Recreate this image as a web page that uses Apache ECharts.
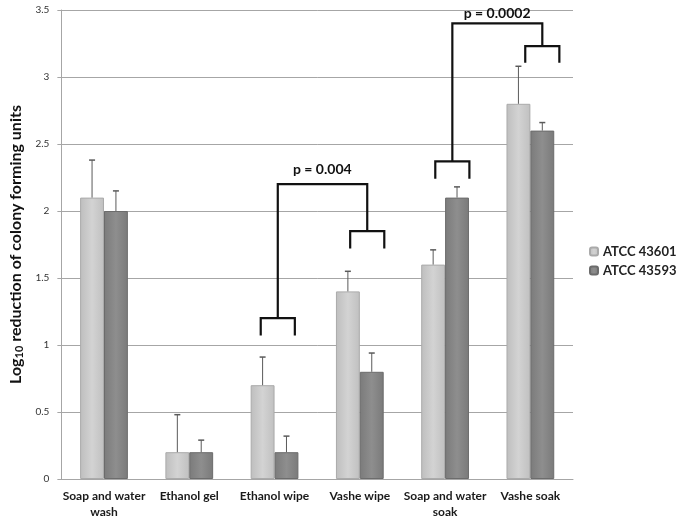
<!DOCTYPE html>
<html><head><meta charset="utf-8">
<script src="https://cdn.jsdelivr.net/npm/echarts@6/dist/echarts.min.js"></script>
<style>html,body{margin:0;padding:0;background:#fff}#c{width:683px;height:520px}</style>
</head><body><div id="c"></div>
<script>
const categories = ['Soap and water\nwash','Ethanol gel','Ethanol wipe','Vashe wipe','Soap and water\nsoak','Vashe soak'];
const seriesNames = ['ATCC 43601','ATCC 43593'];
const atcc43601 = [2.1, 0.2, 0.7, 1.4, 1.6, 2.8];
const atcc43593 = [2.0, 0.2, 0.2, 0.8, 2.1, 2.6];
const err43601 = [2.38, 0.48, 0.91, 1.55, 1.71, 3.08];
const err43593 = [2.15, 0.29, 0.32, 0.94, 2.18, 2.66];
const yTicks = [0, 0.5, 1, 1.5, 2, 2.5, 3, 3.5];
// small brackets: [centre (category units), top, leg bottom]
const smallBrackets = [[2.038, 1.2, 1.07], [3.087, 1.85, 1.72], [4.085, 2.37, 2.24], [5.140, 3.23, 3.107]];
// connectors: [x1, bottom1, x2, bottom2, top]
const connectors = [[2.038, 1.2, 3.087, 1.85, 2.2], [4.085, 2.37, 5.140, 3.23, 3.40]];
const pLabels = [[2.56, 2.31, 'p = 0.004'], [4.61, 3.475, 'p = 0.0002']];

const FONT = 'Lato, "Open Sans", sans-serif';
const chart = echarts.init(document.getElementById('c'));
const lightColor = new echarts.graphic.LinearGradient(0,0,1,0,[{offset:0,color:'#bebebe'},{offset:0.5,color:'#d3d3d3'},{offset:1,color:'#c0c0c0'}]);
const darkColor = new echarts.graphic.LinearGradient(0,0,1,0,[{offset:0,color:'#7b7b7b'},{offset:0.5,color:'#8e8e8e'},{offset:1,color:'#7a7a7a'}]);
const BW = 0.28;
function errItems(vals, errs){ return vals.map((v,i)=>[i, v, errs[i]]); }
function errRender(side){
  return function(params, api){
    const c = api.value(0);
    const top = api.coord([c, api.value(2)]);
    const base = api.coord([c, api.value(1)]);
    const band = api.size([1,0])[0];
    const x = top[0] + side*band*BW/2;
    return {type:'group', children:[
      {type:'line', shape:{x1:x,y1:base[1],x2:x,y2:top[1]}, style:{stroke:'#5a5a5a',lineWidth:1}},
      {type:'line', shape:{x1:x-3,y1:top[1],x2:x+3,y2:top[1]}, style:{stroke:'#5a5a5a',lineWidth:1.5}}
    ]};
  };
}
chart.setOption({
  animation:false,
  textStyle:{fontFamily:FONT},
  grid:{left:47,right:110,top:10,bottom:40,containLabel:false},
  legend:{data:seriesNames, orient:'vertical', left:584, top:240, itemWidth:8, itemHeight:8, itemGap:6,
    textStyle:{fontFamily:FONT,fontWeight:'bold',fontSize:13,color:'#222'}},
  xAxis:[
    {type:'category', data:categories, axisTick:{show:false}, axisLine:{lineStyle:{color:'#a6a6a6'}},
     axisLabel:{interval:0, margin:9, fontFamily:FONT, fontWeight:'bold', fontSize:12, color:'#1a1a1a', lineHeight:16}},
    {type:'value', min:-0.5, max:5.5, show:false}
  ],
  yAxis:{type:'value', min:yTicks[0], max:yTicks[yTicks.length-1], interval:0.5,
    name:'{a|Log}{s|10}{a| reduction of colony forming units}', nameLocation:'middle', nameGap:24, nameRotate:90,
    nameTextStyle:{rich:{a:{fontFamily:FONT,fontWeight:'bold',fontSize:16,color:'#111'},s:{fontFamily:FONT,fontWeight:'bold',fontSize:11,color:'#111',verticalAlign:'bottom',padding:[6,0,0,0]}}},
    axisLine:{show:true,onZero:false,lineStyle:{color:'#a6a6a6'}}, axisTick:{show:true,length:4,lineStyle:{color:'#a6a6a6'}},
    splitLine:{lineStyle:{color:'#a6a6a6'}},
    axisLabel:{margin:12, fontFamily:FONT, fontSize:10, color:'#333', formatter:v=>String(v)}},
  series:[
    {name:seriesNames[0], type:'bar', data:atcc43601, barWidth:(BW*100)+'%', barGap:'0%',
      itemStyle:{color:lightColor, borderColor:'#aaaaaa', borderWidth:1}},
    {name:seriesNames[1], type:'bar', data:atcc43593, barWidth:(BW*100)+'%', barGap:'0%',
      itemStyle:{color:darkColor, borderColor:'#6c6c6c', borderWidth:1}},
    {name:'err1', type:'custom', silent:true, z:5, data:errItems(atcc43601, err43601), renderItem:errRender(-1)},
    {name:'err2', type:'custom', silent:true, z:5, data:errItems(atcc43593, err43593), renderItem:errRender(1)},
    {name:'small', type:'custom', silent:true, xAxisIndex:1, z:6, data:smallBrackets,
      renderItem:function(p, api){
        const cx = api.value(0), t = api.value(1), b = api.value(2), h = 0.2;
        const pts = [api.coord([cx-h,b]), api.coord([cx-h,t]), api.coord([cx+h,t]), api.coord([cx+h,b])];
        return {type:'polyline', shape:{points:pts}, style:{stroke:'#111', lineWidth:2.2, fill:null}};
      }},
    {name:'conn', type:'custom', silent:true, xAxisIndex:1, z:6, data:connectors,
      renderItem:function(p, api){
        const x1 = api.value(0), b1 = api.value(1), x2 = api.value(2), b2 = api.value(3), t = api.value(4);
        const pts = [api.coord([x1,b1]), api.coord([x1,t]), api.coord([x2,t]), api.coord([x2,b2])];
        return {type:'polyline', shape:{points:pts}, style:{stroke:'#111', lineWidth:2.2, fill:null}};
      }},
    {name:'plab', type:'custom', silent:true, xAxisIndex:1, z:7, data:pLabels.map(d=>[d[0],d[1]]),
      renderItem:function(p, api){
        const pt = api.coord([api.value(0), api.value(1)]);
        return {type:'text', x:pt[0], y:pt[1], style:{text:pLabels[p.dataIndex][2], align:'center', verticalAlign:'middle',
          fill:'#111', font:'bold 14px '+FONT}};
      }}
  ]
});
</script></body></html>
